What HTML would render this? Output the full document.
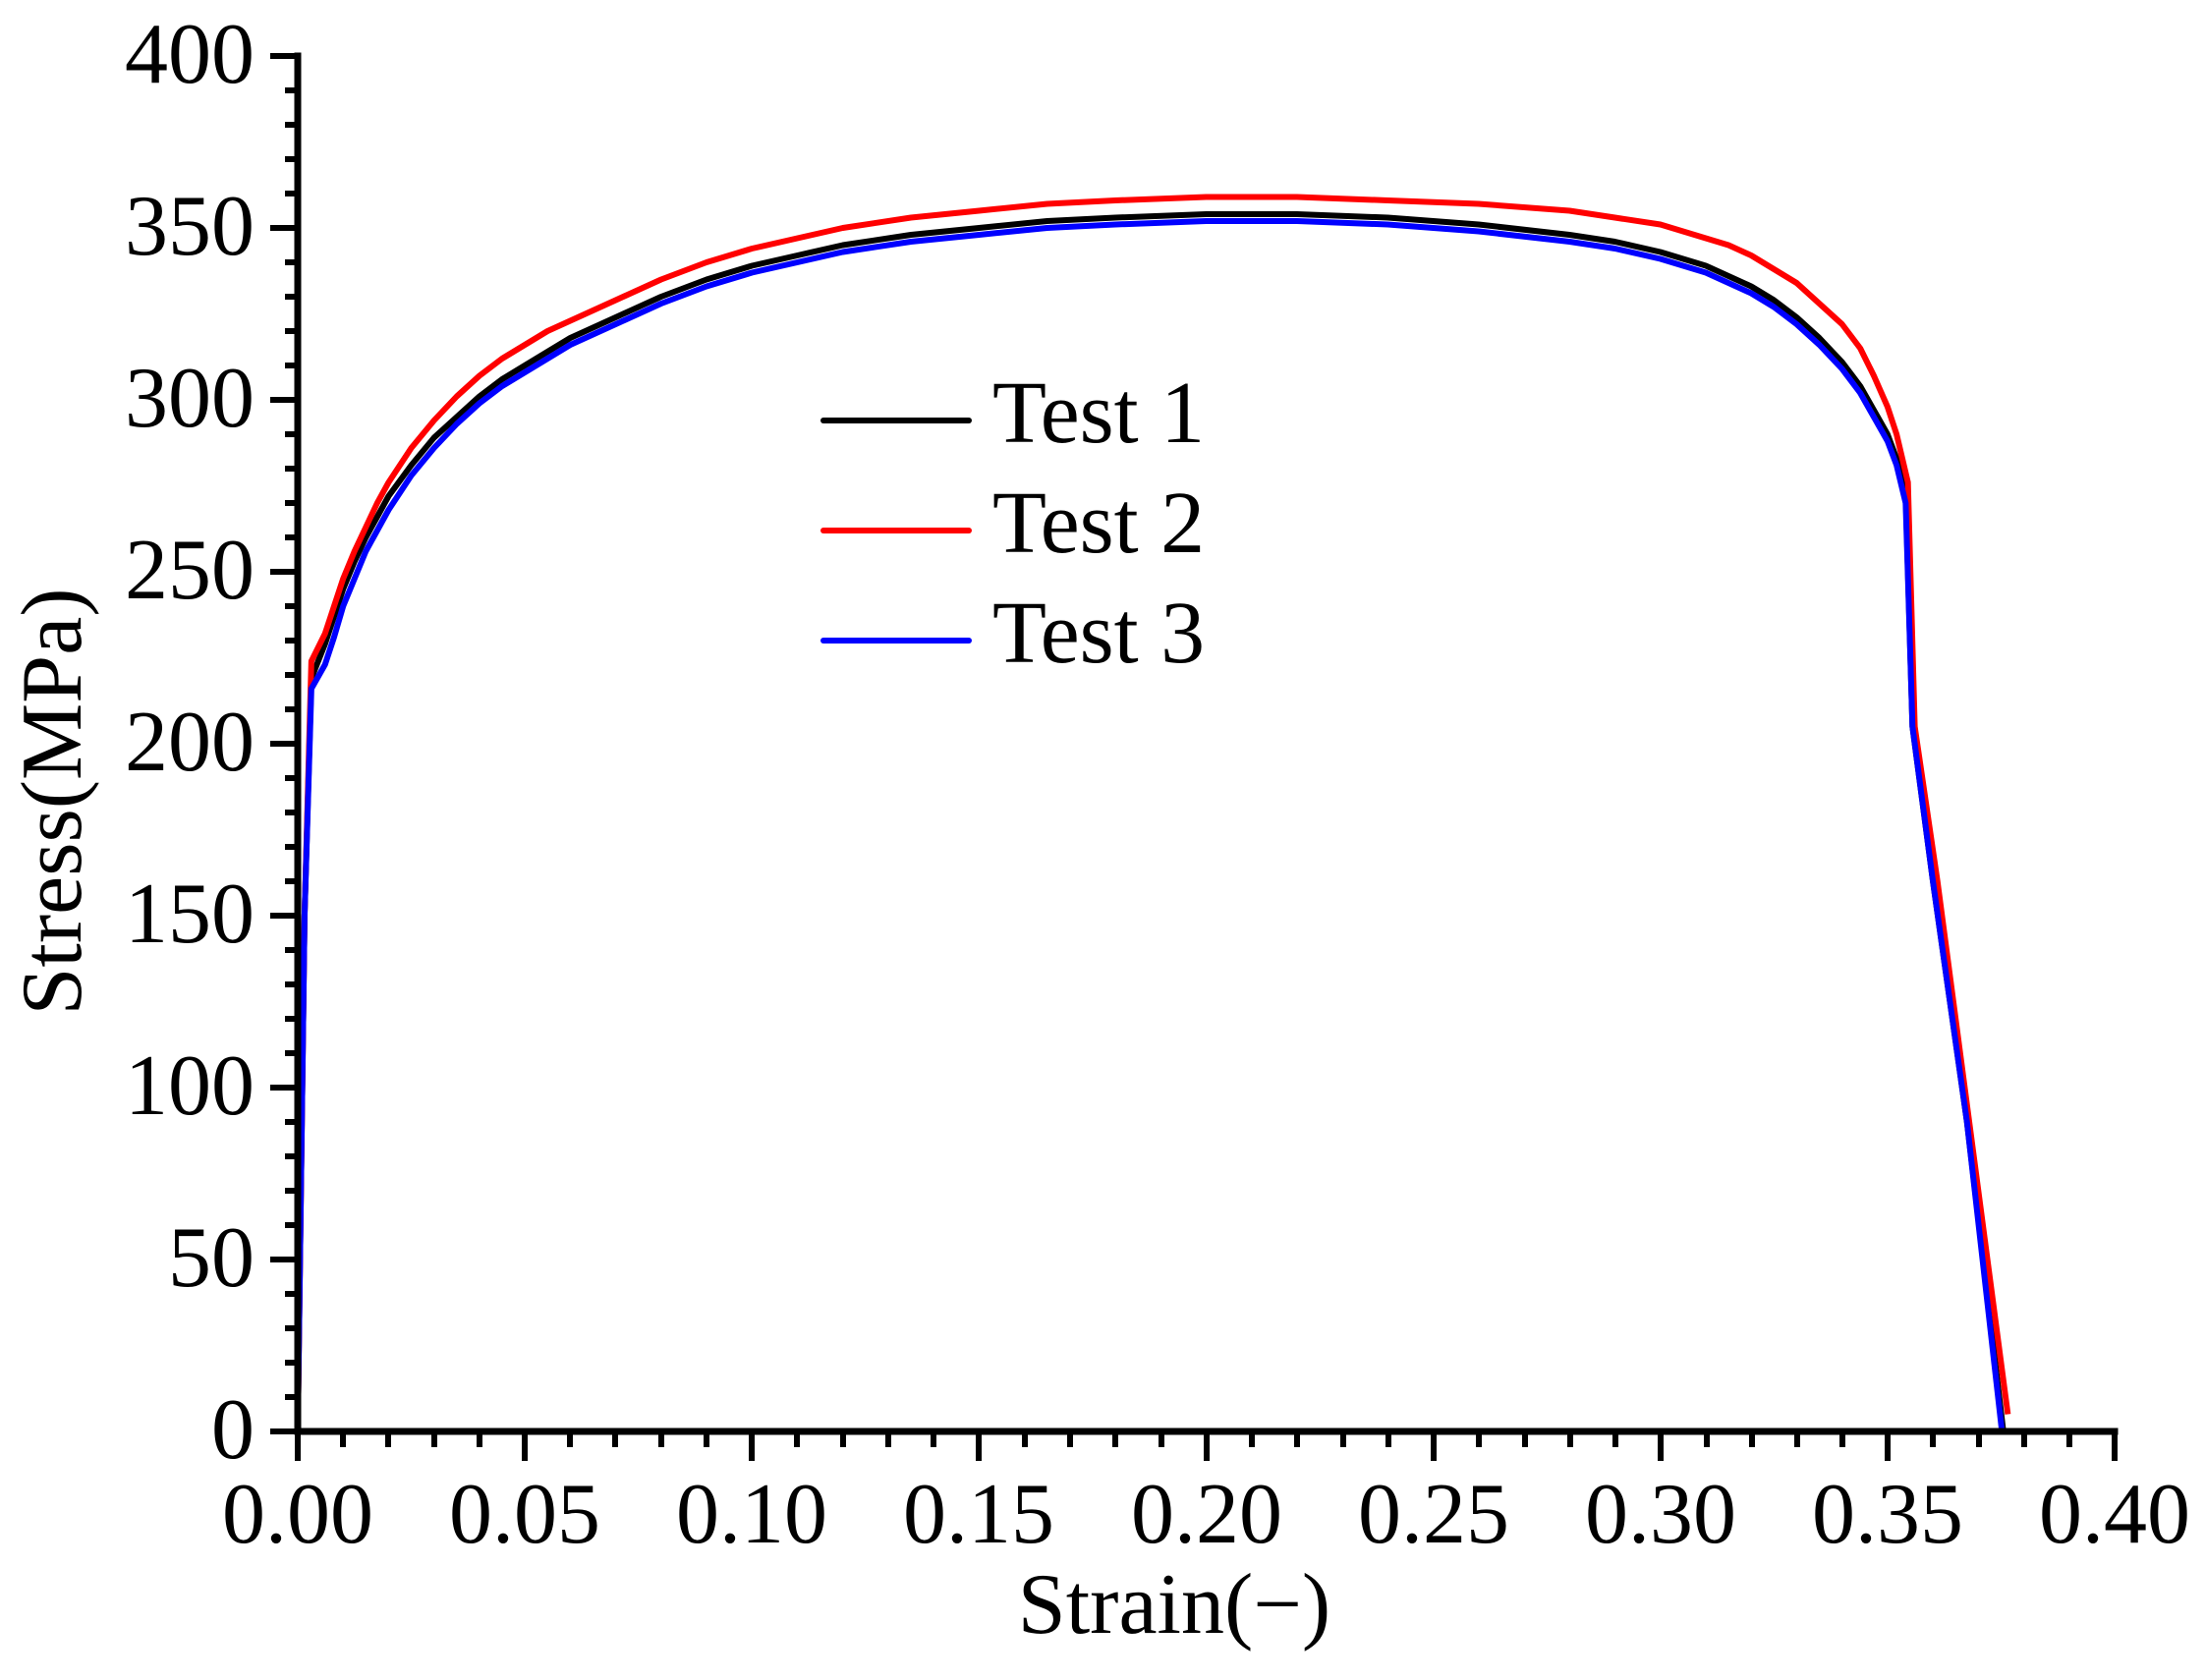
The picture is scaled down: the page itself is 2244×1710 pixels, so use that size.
<!DOCTYPE html>
<html><head><meta charset="utf-8"><style>html,body{margin:0;padding:0;background:#fff}svg{display:block}text{font-family:"Liberation Serif","Times New Roman",serif}</style></head>
<body>
<svg width="2244" height="1710" viewBox="0 0 2244 1710" xmlns="http://www.w3.org/2000/svg">
<rect width="2244" height="1710" fill="#fff"/>
<g transform="translate(303,1457) scale(4622.5,-3.5)" fill="none" stroke-linejoin="round">
<polyline vector-effect="non-scaling-stroke" stroke="#000" stroke-width="6" points="0,0 0.0015,150 0.003,219 0.006,229 0.008,237 0.01,245 0.0125,253 0.015,260 0.0175,266 0.02,272 0.025,281 0.03,289 0.035,295 0.04,301 0.045,306 0.05,310 0.055,314 0.06,318 0.07,324 0.08,330 0.09,335 0.1,339 0.11,342 0.12,345 0.135,348 0.15,350 0.165,352 0.18,353 0.2,354 0.22,354 0.24,353 0.26,351 0.28,348 0.29,346 0.3,343 0.31,339 0.315,336 0.32,333 0.325,329 0.33,324 0.335,318 0.34,311 0.344,304 0.347,297 0.35,290 0.352,283 0.354,273 0.3555,205 0.36,160 0.3675,90 0.3755,0"/>
<polyline vector-effect="non-scaling-stroke" stroke="#ff0000" stroke-width="6" points="0,0 0.0015,150 0.003,224 0.006,232 0.008,240 0.01,248 0.0125,256 0.015,263 0.0175,270 0.02,276 0.025,286 0.03,294 0.035,301 0.04,307 0.045,312 0.05,316 0.055,320 0.06,323 0.07,329 0.08,335 0.09,340 0.1,344 0.11,347 0.12,350 0.135,353 0.15,355 0.165,357 0.18,358 0.2,359 0.22,359 0.24,358 0.26,357 0.28,355 0.29,353 0.3,351 0.31,347 0.315,345 0.32,342 0.325,338 0.33,334 0.335,328 0.34,322 0.344,315 0.347,307 0.35,298 0.352,290 0.3545,276 0.356,205 0.361,160 0.368,90 0.3765,5"/>
<polyline vector-effect="non-scaling-stroke" stroke="#0000ff" stroke-width="6" points="0,0 0.0015,150 0.003,216 0.006,223 0.008,231 0.01,240 0.0125,248 0.015,256 0.0175,262 0.02,268 0.025,278 0.03,286 0.035,293 0.04,299 0.045,304 0.05,308 0.055,312 0.06,316 0.07,322 0.08,328 0.09,333 0.1,337 0.11,340 0.12,343 0.135,346 0.15,348 0.165,350 0.18,351 0.2,352 0.22,352 0.24,351 0.26,349 0.28,346 0.29,344 0.3,341 0.31,337 0.315,334 0.32,331 0.325,327 0.33,322 0.335,316 0.34,309 0.344,302 0.347,295 0.35,288 0.352,281 0.354,270 0.3555,205 0.36,160 0.3675,90 0.3752,0"/>
</g>
<g stroke="#000" stroke-width="7" stroke-linecap="square">
<line x1="303" y1="57" x2="303" y2="1457"/>
<line x1="303" y1="1457" x2="2152" y2="1457"/>
</g>
<g stroke="#000" stroke-width="6">
<path d="M275,57H303M275,232H303M275,407H303M275,582H303M275,757H303M275,932H303M275,1107H303M275,1282H303M275,1457H303"/>
<path d="M290,92H303M290,127H303M290,162H303M290,197H303M290,267H303M290,302H303M290,337H303M290,372H303M290,442H303M290,477H303M290,512H303M290,547H303M290,617H303M290,652H303M290,687H303M290,722H303M290,792H303M290,827H303M290,862H303M290,897H303M290,967H303M290,1002H303M290,1037H303M290,1072H303M290,1142H303M290,1177H303M290,1212H303M290,1247H303M290,1317H303M290,1352H303M290,1387H303M290,1422H303"/>
<path d="M303,1457V1487M534,1457V1487M765,1457V1487M996,1457V1487M1228,1457V1487M1459,1457V1487M1690,1457V1487M1921,1457V1487M2152,1457V1487"/>
<path d="M349,1457V1473M395,1457V1473M442,1457V1473M488,1457V1473M580,1457V1473M626,1457V1473M673,1457V1473M719,1457V1473M811,1457V1473M858,1457V1473M904,1457V1473M950,1457V1473M1043,1457V1473M1089,1457V1473M1135,1457V1473M1182,1457V1473M1274,1457V1473M1320,1457V1473M1367,1457V1473M1413,1457V1473M1505,1457V1473M1552,1457V1473M1598,1457V1473M1644,1457V1473M1737,1457V1473M1783,1457V1473M1829,1457V1473M1875,1457V1473M1967,1457V1473M2014,1457V1473M2060,1457V1473M2106,1457V1473"/>
</g>
<g font-size="88" fill="#000" text-anchor="end">
<text x="259" y="84">400</text><text x="259" y="259">350</text><text x="259" y="434">300</text><text x="259" y="609">250</text><text x="259" y="784">200</text><text x="259" y="959">150</text><text x="259" y="1134">100</text><text x="259" y="1309">50</text><text x="259" y="1484">0</text>
</g>
<g font-size="88" fill="#000" text-anchor="middle">
<text x="303" y="1570">0.00</text><text x="534" y="1570">0.05</text><text x="765" y="1570">0.10</text><text x="996" y="1570">0.15</text><text x="1228" y="1570">0.20</text><text x="1459" y="1570">0.25</text><text x="1690" y="1570">0.30</text><text x="1921" y="1570">0.35</text><text x="2152" y="1570">0.40</text>
<text x="1195" y="1662">Strain(−)</text>
<text transform="translate(82,816) rotate(-90)">Stress(MPa)</text>
</g>
<g stroke-width="6" stroke-linecap="round">
<line x1="838" y1="428" x2="986" y2="428" stroke="#000"/>
<line x1="838" y1="540" x2="986" y2="540" stroke="#ff0000"/>
<line x1="838" y1="652" x2="986" y2="652" stroke="#0000ff"/>
</g>
<g font-size="90" fill="#000">
<text x="1010" y="450">Test 1</text><text x="1010" y="562">Test 2</text><text x="1010" y="674">Test 3</text>
</g>
</svg>
</body></html>
